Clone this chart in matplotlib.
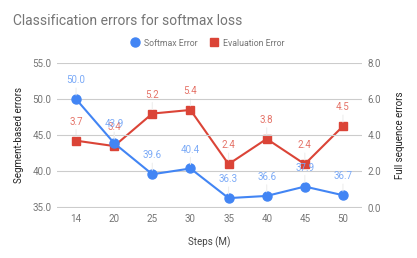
import matplotlib
matplotlib.use("Agg")
import matplotlib.pyplot as plt

plt.rcParams['font.family'] = ['Roboto', 'DejaVu Sans']

categories = ["14", "20", "25", "30", "35", "40", "45", "50"]
softmax_error = [50.0, 43.9, 39.6, 40.4, 36.3, 36.6, 37.9, 36.7]
evaluation_error = [3.7, 3.4, 5.2, 5.4, 2.4, 3.8, 2.4, 4.5]
left_ticks = [35.0, 40.0, 45.0, 50.0, 55.0]
right_ticks = [0.0, 2.0, 4.0, 6.0, 8.0]

BLUE = "#4285F4"
RED = "#DB4437"
GRID = "#cccccc"
TXT = "#757575"

W, H = 417, 258
fig = plt.figure(figsize=(W/100, H/100), dpi=100)
left, right, bottom, top = 57, 362, 207.5, 63
ax = fig.add_axes([left/W, 1-bottom/H, (right-left)/W, (bottom-top)/H])
ax2 = ax.twinx()

x = list(range(len(categories)))
ax.set_xlim(-0.5, len(categories)-0.5)
ax.set_ylim(35, 55)
ax2.set_ylim(0, 8)

for t in left_ticks:
    ax.axhline(t, color=GRID, lw=0.8, zorder=0)

ax.set_yticks(left_ticks)
ax.set_yticklabels([f"{v:.1f}" for v in left_ticks])
ax2.set_yticks(right_ticks)
ax2.set_yticklabels([f"{v:.1f}" for v in right_ticks])
ax.set_xticks(x)
ax.set_xticklabels(categories)

for a in (ax, ax2):
    for s in a.spines.values():
        s.set_visible(False)
    a.tick_params(length=0, labelsize=7, colors=TXT, pad=4)
ax.tick_params(axis='x', pad=5)

ax.set_xlabel("Steps (M)", fontsize=7, color="#444444", labelpad=9)
ax.set_ylabel("Segment-based errors", fontsize=7, color="#222222", labelpad=6)
ax2.set_ylabel("Full sequence errors", fontsize=7, color="#222222", labelpad=10)

l1, = ax.plot(x, softmax_error, color=BLUE, lw=1.5, marker='o', ms=6.5,
              zorder=5, clip_on=False, label="Softmax Error")
l2, = ax2.plot(x, evaluation_error, color=RED, lw=1.5, marker='s', ms=5.5,
               zorder=5, clip_on=False, label="Evaluation Error")
ax.set_zorder(ax2.get_zorder()+1)
ax.patch.set_visible(False)

for xi, v in zip(x, softmax_error):
    ax.annotate(f"{v:.1f}", (xi, v), xytext=(0, 10), textcoords='offset points',
                ha='center', va='bottom', fontsize=7, color="#7BAAF7", zorder=6,
                arrowprops=dict(arrowstyle='-', color='#eeeeee', lw=0.8,
                                shrinkA=0, shrinkB=3))
for xi, v in zip(x, evaluation_error):
    ax2.annotate(f"{v:.1f}", (xi, v), xytext=(0, 10), textcoords='offset points',
                 ha='center', va='bottom', fontsize=7, color="#E57368", zorder=6,
                 arrowprops=dict(arrowstyle='-', color='#eeeeee', lw=0.8,
                                 shrinkA=0, shrinkB=3))

fig.text(13/W, 1-21/H, "Classification errors for softmax loss", fontsize=10,
         color="#757575", va='center', ha='left')

fig.legend(handles=[l1, l2], loc='center', bbox_to_anchor=(208/W, 1-43/H),
           ncol=2, frameon=False, fontsize=6.3, labelcolor="#757575",
           handlelength=0.8, handletextpad=0.6, columnspacing=1.5,
           markerscale=1.0)
for h in fig.legends[0].legend_handles:
    h.set_linestyle('None')

fig.savefig("out.png", dpi=100)
